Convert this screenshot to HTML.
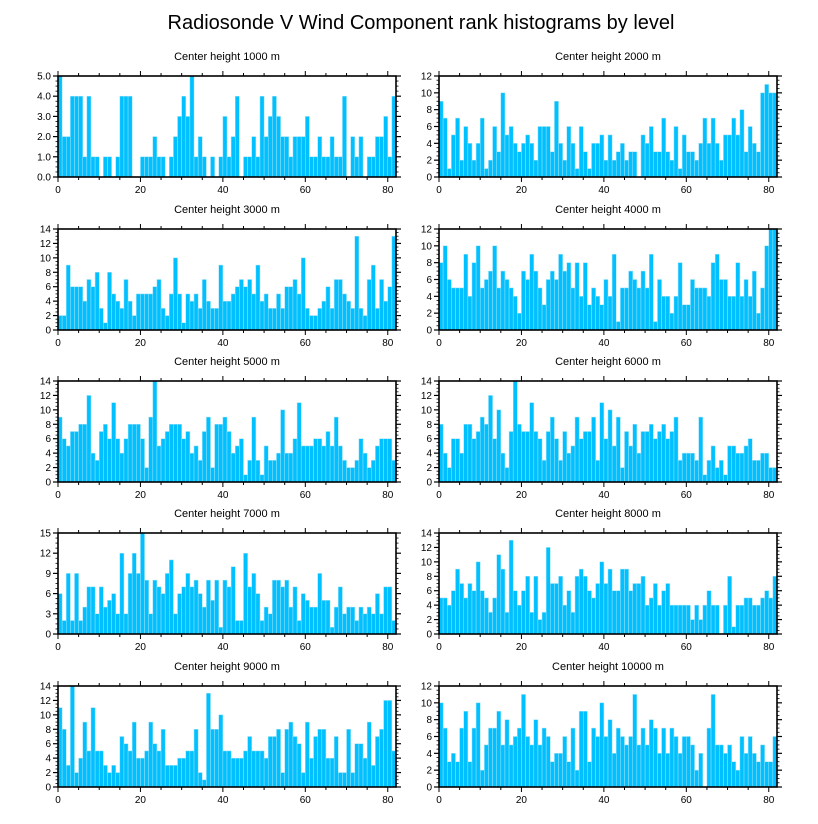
<!DOCTYPE html>
<html><head><meta charset="utf-8"><style>
html,body{margin:0;padding:0;background:#fff;}
svg{display:block;font-family:"Liberation Sans",sans-serif;}
</style></head><body>
<svg id="chart" width="818" height="824" viewBox="0 0 818 824" xmlns="http://www.w3.org/2000/svg">
<text x="421" y="29" font-size="20" text-anchor="middle" fill="#000">Radiosonde V Wind Component rank histograms by level</text>
</svg>
<script>
const levels = ["1000","2000","3000","4000","5000","6000","7000","8000","9000","10000"];
const yMaxes = [5,12,14,12,14,14,15,14,14,12];
const yStep = [1,2,2,2,2,2,3,2,2,2];
const xTicks = [0,20,40,60,80];
const v1000 = [5,2,2,4,4,4,1,4,1,1, 0,1,1,0,1,4,4,4,0,0, 1,1,1,2,1,1,0,1,2,3, 4,3,5,1,2,1,0,1,0,1, 3,1,2,4,0,1,1,2,1,4, 2,3,4,3,2,2,1,2,2,2, 3,1,1,2,1,1,2,1,1,4, 0,2,1,2,0,1,1,2,2,3, 1,4];
const v2000 = [9,7,1,5,7,2,6,4,2,4, 7,1,2,6,3,10,5,6,4,3, 4,5,4,2,6,6,6,3,9,4, 2,6,4,1,6,3,1,4,4,5, 2,5,2,3,4,2,3,3,0,5, 4,6,3,3,7,3,2,6,1,5, 3,3,2,4,7,4,7,4,2,5, 5,7,5,8,3,6,4,3,10,11, 10,10];
const v3000 = [2,2,9,6,6,6,4,7,6,8, 3,1,8,5,4,3,7,4,2,5, 5,5,5,6,7,3,2,5,10,5, 1,5,4,5,3,7,4,3,3,9, 4,4,5,6,7,6,7,5,9,4, 5,3,3,5,3,6,6,7,5,10, 3,2,2,3,4,6,3,7,7,5, 4,3,13,3,2,7,9,3,7,4, 6,13];
const v4000 = [8,10,6,5,5,5,9,4,8,10, 5,6,7,10,5,7,6,5,4,2, 7,6,9,7,5,3,6,7,6,9, 7,8,5,8,4,8,3,5,4,3, 6,4,9,1,5,5,7,6,5,7, 5,9,1,6,4,4,2,4,8,3, 3,6,5,5,5,4,8,9,6,6, 4,4,8,4,6,4,7,2,5,10, 12,12];
const v5000 = [9,6,5,7,7,8,8,12,4,3, 7,8,6,11,6,4,6,8,8,8, 6,2,9,14,5,6,7,8,8,8, 6,7,4,5,3,7,9,2,8,8, 9,7,4,5,6,1,3,9,3,1, 5,3,3,4,10,4,4,6,11,5, 5,5,6,6,5,7,5,9,5,3, 2,2,3,6,4,2,3,5,6,6, 6,3];
const v6000 = [8,4,2,6,6,4,8,8,6,7, 9,8,12,6,10,4,2,7,14,8, 7,7,11,7,6,3,7,9,6,3, 7,4,5,9,6,7,7,9,3,11, 6,10,5,9,2,7,5,8,4,7, 7,8,6,7,8,6,7,9,3,4, 4,4,3,9,1,3,5,2,3,1, 5,5,4,4,5,6,3,3,4,4, 2,2];
const v7000 = [6,2,9,2,9,2,4,7,7,3, 7,4,5,6,3,12,3,9,12,9, 15,8,3,8,7,6,9,11,3,6, 7,9,7,8,6,4,8,5,8,1, 8,7,10,2,2,12,7,9,6,2, 4,3,8,8,7,8,4,7,2,6, 5,4,4,9,5,5,1,4,7,3, 4,4,2,4,3,4,3,6,3,7, 7,2];
const v8000 = [5,5,4,6,9,7,5,7,6,10, 6,5,3,5,11,9,3,13,6,4, 6,8,3,8,2,3,12,7,7,8, 4,6,3,8,9,8,6,5,7,10, 7,9,6,6,9,9,6,7,7,8, 4,5,7,4,6,7,4,4,4,4, 4,2,4,2,4,6,4,4,0,4, 8,1,4,4,5,5,4,4,5,6, 5,8];
const v9000 = [11,8,3,14,2,4,9,5,11,5, 5,3,2,3,2,7,6,5,9,4, 4,5,9,6,5,8,3,3,3,4, 4,5,5,8,2,1,13,8,8,10, 5,5,4,4,4,5,7,5,5,5, 4,7,7,8,2,8,9,7,6,2, 9,4,7,8,8,4,4,7,2,2, 8,2,6,6,4,9,3,7,8,12, 12,5];
const v10000 = [10,7,3,4,3,7,9,3,7,10, 2,5,7,7,9,5,8,5,6,7, 11,6,5,8,5,7,6,3,4,4, 6,3,7,2,9,9,3,7,6,10, 6,8,4,7,6,5,6,11,5,7, 5,8,7,4,7,4,7,6,4,6, 6,5,2,4,0,7,11,5,5,4, 5,3,2,6,4,6,4,3,5,3, 3,6];
const series = [v1000,v2000,v3000,v4000,v5000,v6000,v7000,v8000,v9000,v10000];

const NS="http://www.w3.org/2000/svg";
const svg=document.getElementById('chart');
function mk(tag,attrs,parent){const e=document.createElementNS(NS,tag);for(const k in attrs)e.setAttribute(k,attrs[k]);(parent||svg).appendChild(e);return e;}
const colX=[58,439], rowY=[76,229,381,533,686], W=338, H=101, XMAX=82;

series.forEach((vals,p)=>{
  const ox=colX[p%2], oy=rowY[Math.floor(p/2)], ymax=yMaxes[p];
  const g=mk('g',{});
  
  
  const xs=v=>ox+v/XMAX*W, ys=v=>oy+H-v/ymax*H;
  const t=mk('text',{x:ox+W/2,y:oy-16,'font-size':11,'text-anchor':'middle'},g);
  t.textContent='Center height '+levels[p]+' m';
  
  
  vals.forEach((v,i)=>{
    if(v<=0)return;
    const r=mk('rect',{x:xs(i),y:ys(v),width:xs(i+1)-xs(i),height:ys(0)-ys(v),fill:'#00c0ff',stroke:'#9fe3fb','stroke-width':0.5},g);
    
    
  });
  const f=mk('rect',{x:ox,y:oy,width:W,height:H,fill:'none',stroke:'#000','stroke-width':1.6},g);
  
  
  // x ticks
  for(let v=0;v<=XMAX;v+=5){
    const maj=v%20===0, L=maj?5:3, x=xs(v);
    mk('line',{x1:x,x2:x,y1:oy+H,y2:oy+H+L,stroke:'#000','stroke-width':1},g);
    mk('line',{x1:x,x2:x,y1:oy,y2:oy-L,stroke:'#000','stroke-width':1},g);
  }
  xTicks.forEach(v=>{
    const tx=mk('text',{x:xs(v),y:oy+H+16,'font-size':10,'text-anchor':'middle'},g);
    tx.textContent=v;
    
    
  });
  // y ticks
  const st=yStep[p], minor=st/4;
  for(let k=0;k*minor<=ymax+1e-9;k++){
    const v=k*minor, y=ys(v), maj=k%4===0, L=maj?5:2.5;
    mk('line',{x1:ox,x2:ox-L,y1:y,y2:y,stroke:'#000','stroke-width':maj?1.2:0.8},g);
    mk('line',{x1:ox+W,x2:ox+W+L,y1:y,y2:y,stroke:'#000','stroke-width':maj?1.2:0.8},g);
    if(maj){
      const ty=mk('text',{x:ox-7,y:y+3.5,'font-size':10,'text-anchor':'end'},g);
      ty.textContent=p===0?v.toFixed(1):v;
      
      
    }
  }
});
</script>
</body></html>
